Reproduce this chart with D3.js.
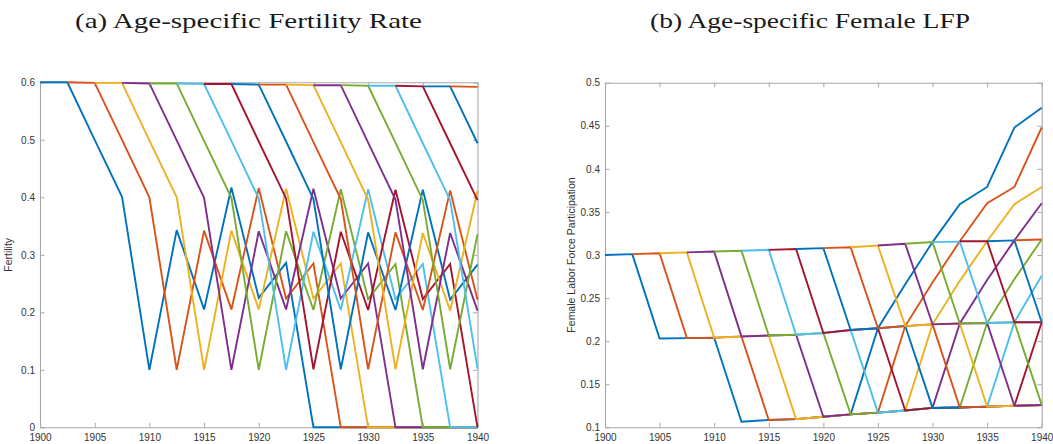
<!DOCTYPE html>
<html><head><meta charset="utf-8">
<script src="https://cdn.jsdelivr.net/npm/d3@7"></script>
<style>body{margin:0;background:#fff} svg{display:block}</style>
</head><body><svg id="c" width="1053" height="444"></svg>
<script>
// period grid (years)
const years = [1900,1902.5,1905,1907.5,1910,1912.5,1915,1917.5,1920,1922.5,1925,1927.5,1930,1932.5,1935,1937.5,1940];
// MATLAB default colour order
const palette = ["#0072BD","#D95319","#EDB120","#7E2F8E","#77AC30","#4DBEEE","#A2142F"];
// each cohort starts at years[k]
const cohortStartIndex = [0,1,2,3,4,5,6,7,8,9,10,11,12,13,14,15];

// (a) age-specific fertility, one array per cohort (from its start year to 1940)
const fert01 = [0.600,0.600,0.500,0.401,0.100,0.343,0.205,0.417,0.225,0.286,0,0,0,0,0,0,0];
const fert02 = [0.600,0.599,0.500,0.400,0.100,0.342,0.205,0.416,0.224,0.285,0,0,0,0,0,0];
const fert03 = [0.599,0.599,0.499,0.400,0.100,0.342,0.205,0.415,0.224,0.285,0,0,0,0,0];
const fert04 = [0.599,0.598,0.499,0.399,0.100,0.341,0.205,0.415,0.224,0.285,0,0,0,0];
const fert05 = [0.598,0.598,0.498,0.399,0.100,0.341,0.204,0.414,0.223,0.284,0,0,0];
const fert06 = [0.598,0.597,0.498,0.398,0.100,0.340,0.204,0.414,0.223,0.284,0,0];
const fert07 = [0.597,0.597,0.497,0.398,0.101,0.340,0.204,0.413,0.223,0.284,0];
const fert08 = [0.597,0.596,0.497,0.397,0.101,0.339,0.204,0.413,0.222,0.283];
const fert09 = [0.596,0.596,0.496,0.397,0.101,0.339,0.204,0.412,0.222];
const fert10 = [0.596,0.595,0.496,0.396,0.101,0.338,0.203,0.411];
const fert11 = [0.595,0.595,0.495,0.396,0.101,0.338,0.203];
const fert12 = [0.595,0.594,0.495,0.395,0.101,0.336];
const fert13 = [0.594,0.594,0.494,0.395,0.102];
const fert14 = [0.594,0.593,0.494,0.395];
const fert15 = [0.593,0.593,0.494];
const fert16 = [0.593,0.592];

// (b) age-specific female LFP, one array per cohort
const lfp01 = [0.300,0.301,0.203,0.2035,0.204,0.1065,0.1085,0.1095,0.1123,0.115,0.215,0.266,0.315,0.359,0.379,0.448,0.471];
const lfp02 = [0.301,0.302,0.2035,0.204,0.2055,0.1085,0.1095,0.1123,0.115,0.117,0.2175,0.268,0.316,0.360,0.379,0.448];
const lfp03 = [0.302,0.303,0.204,0.2055,0.2065,0.1095,0.1123,0.115,0.117,0.1195,0.2195,0.270,0.316,0.359,0.379];
const lfp04 = [0.303,0.304,0.2055,0.2065,0.2075,0.1123,0.115,0.117,0.1195,0.1225,0.2205,0.271,0.317,0.360];
const lfp05 = [0.304,0.305,0.2065,0.2075,0.2095,0.115,0.117,0.1195,0.1225,0.123,0.221,0.272,0.318];
const lfp06 = [0.305,0.306,0.2075,0.2095,0.213,0.117,0.1195,0.1225,0.123,0.124,0.222,0.276];
const lfp07 = [0.306,0.307,0.2095,0.213,0.215,0.1195,0.1225,0.123,0.124,0.125,0.222];
const lfp08 = [0.307,0.308,0.213,0.215,0.2175,0.1225,0.123,0.124,0.125,0.1258];
const lfp09 = [0.308,0.309,0.215,0.2175,0.2195,0.123,0.124,0.125,0.1258];
const lfp10 = [0.309,0.311,0.2175,0.2195,0.2205,0.124,0.125,0.1258];
const lfp11 = [0.311,0.313,0.2195,0.2205,0.221,0.125,0.1258];
const lfp12 = [0.313,0.315,0.2205,0.221,0.222,0.126];
const lfp13 = [0.315,0.3155,0.221,0.222,0.222];
const lfp14 = [0.316,0.316,0.222,0.222];
const lfp15 = [0.316,0.317,0.222];
const lfp16 = [0.317,0.318];

const fertSeries = [fert01,fert02,fert03,fert04,fert05,fert06,fert07,fert08,fert09,fert10,fert11,fert12,fert13,fert14,fert15,fert16];
const lfpSeries = [lfp01,lfp02,lfp03,lfp04,lfp05,lfp06,lfp07,lfp08,lfp09,lfp10,lfp11,lfp12,lfp13,lfp14,lfp15,lfp16];

const xTicks = [1900,1905,1910,1915,1920,1925,1930,1935,1940];
const xTickLabels = ["1900","1905","1910","1915","1920","1925","1930","1935","1940"];
const fertTicks = [0,0.1,0.2,0.3,0.4,0.5,0.6];
const fertTickLabels = ["0","0.1","0.2","0.3","0.4","0.5","0.6"];
const lfpTicks = [0.1,0.15,0.2,0.25,0.3,0.35,0.4,0.45,0.5];
const lfpTickLabels = ["0.1","0.15","0.2","0.25","0.3","0.35","0.4","0.45","0.5"];

const titles = ["(a) Age-specific Fertility Rate","(b) Age-specific Female LFP"];
const yLabels = ["Fertility","Female Labor Force Participation"];

const svg = d3.select("#c");
const axisColor = "#a8a8a8", textColor = "#333";
const tickFont = "Liberation Sans, Arial, sans-serif";

function panel(cfg){
  const x = d3.scaleLinear().domain([1900,1940]).range([cfg.x0,cfg.x1]);
  const y = d3.scaleLinear().domain(cfg.yDomain).range([cfg.y0,cfg.y1]);
  const g = svg.append("g");
  const tl = 4.5;
  const fmtX = d => xTickLabels[xTicks.indexOf(d)];
  const fmtY = d => cfg.yLabels[cfg.yTicks.indexOf(d)];
  const ax = [
    g.append("g").attr("transform",`translate(0,${cfg.y0})`).call(d3.axisBottom(x).tickValues(xTicks).tickFormat(fmtX).tickSizeInner(-tl).tickSizeOuter(0).tickPadding(7)),
    g.append("g").attr("transform",`translate(0,${cfg.y1})`).call(d3.axisTop(x).tickValues(xTicks).tickFormat("").tickSizeInner(-tl).tickSizeOuter(0)),
    g.append("g").attr("transform",`translate(${cfg.x0},0)`).call(d3.axisLeft(y).tickValues(cfg.yTicks).tickFormat(fmtY).tickSizeInner(-tl).tickSizeOuter(0).tickPadding(5)),
    g.append("g").attr("transform",`translate(${cfg.x1},0)`).call(d3.axisRight(y).tickValues(cfg.yTicks).tickFormat("").tickSizeInner(-tl).tickSizeOuter(0))
  ];
  ax.forEach(a=>{
    a.select(".domain").attr("stroke",axisColor).attr("stroke-width",1.1);
    a.selectAll(".tick line").attr("stroke",axisColor).attr("stroke-width",1);
    a.selectAll(".tick text").attr("fill",textColor).attr("font-size","10px").attr("font-family",tickFont);
  });
  // y label
  svg.append("text").attr("transform",`translate(${cfg.labelX},${(cfg.y0+cfg.y1)/2}) rotate(-90)`)
    .attr("text-anchor","middle").attr("font-family",tickFont).attr("font-size","10.5px").attr("fill",textColor)
    .text(cfg.yLabel);
  // title
  svg.append("text").attr("x",cfg.titleX).attr("y",28).attr("text-anchor","middle")
    .attr("font-family","Liberation Serif, Times New Roman, serif").attr("font-size","22px").attr("fill","#1a1a1a")
    .attr("textLength",cfg.titleW).attr("lengthAdjust","spacingAndGlyphs")
    .text(cfg.title);
  // lines
  const line = d3.line().x(d=>x(d[0])).y(d=>y(d[1]));
  cfg.series.forEach((vals,k)=>{
    const s = cohortStartIndex[k];
    const pts = vals.map((v,i)=>[years[s+i],v]);
    g.append("path").datum(pts).attr("d",line).attr("fill","none")
      .attr("stroke",palette[k%palette.length]).attr("stroke-width",1.9)
      .attr("stroke-linejoin","miter").attr("stroke-miterlimit",3);
  });
}

panel({x0:40,x1:477.5,y0:427.3,y1:82.3,yDomain:[0,0.6],yTicks:fertTicks,yLabels:fertTickLabels,
  series:fertSeries,yLabel:yLabels[0],labelX:12,title:titles[0],titleX:248.5,titleW:347});
panel({x0:605,x1:1041.7,y0:427.3,y1:82.7,yDomain:[0.1,0.5],yTicks:lfpTicks,yLabels:lfpTickLabels,
  series:lfpSeries,yLabel:yLabels[1],labelX:575,title:titles[1],titleX:810,titleW:320});
</script></body></html>
